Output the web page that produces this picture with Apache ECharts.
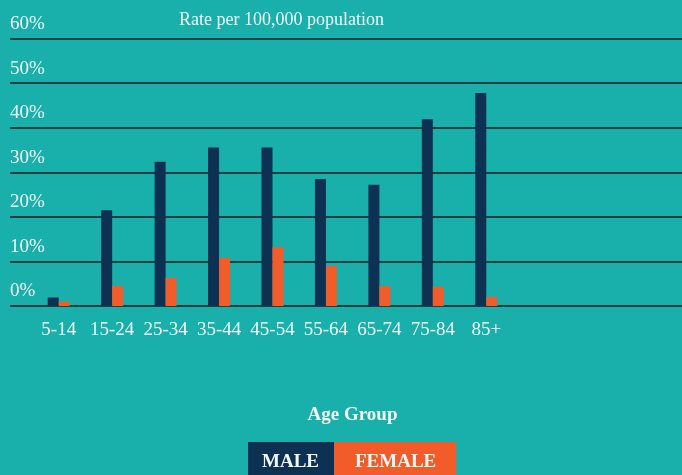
<!DOCTYPE html>
<html>
<head>
<meta charset="utf-8">
<script src="https://cdn.jsdelivr.net/npm/echarts@6/dist/echarts.min.js"></script>
<style>html,body{margin:0;padding:0;background:#19b0ab;}#c{width:682px;height:475px;}</style>
</head>
<body>
<div id="c"></div>
<script>
const categories = ['5-14','15-24','25-34','35-44','45-54','55-64','65-74','75-84','85+'];
const male = [1.9, 21.5, 32.4, 35.6, 35.6, 28.5, 27.2, 41.9, 47.8];
const female = [1.0, 4.5, 6.3, 10.8, 13.2, 9.0, 4.5, 4.3, 2.0];
const yTicks = [0, 10, 20, 30, 40, 50, 60];

const FONT = 'Liberation Serif';
const TXT = '#f2f7f6';
const chart = echarts.init(document.getElementById('c'), null, {renderer: 'canvas'});
chart.setOption({
  backgroundColor: '#19b0ab',
  animation: false,
  title: {
    text: 'Rate per 100,000 population',
    left: 174, top: 6,
    textStyle: {fontFamily: FONT, fontSize: 18, fontWeight: 'normal', color: TXT}
  },
  legend: {
    bottom: -13, left: 238,
    itemWidth: 0, itemHeight: 0, itemGap: -5,
    icon: 'rect',
    selectedMode: false,
    data: [
      {name: 'MALE', textStyle: {backgroundColor: '#0c3152', padding: [11, 15, 11, 14]}},
      {name: 'FEMALE', textStyle: {backgroundColor: '#f25c2a', padding: [11, 20, 11, 21]}}
    ],
    textStyle: {fontFamily: FONT, fontSize: 19, fontWeight: 'bold', color: TXT}
  },
  grid: [
    {left: 10, right: 0, top: 38.7, bottom: 169},
    {left: 32, right: 169, top: 38.7, bottom: 169}
  ],
  xAxis: [
    {gridIndex: 0, type: 'value', show: false, min: 0, max: 1},
    {gridIndex: 1, type: 'category', data: categories,
     name: 'Age Group', nameLocation: 'middle', nameGap: 100,
     nameTextStyle: {fontFamily: FONT, fontSize: 19, fontWeight: 'bold', color: TXT, padding: [0, 0, 0, 160]},
     axisLine: {show: false}, axisTick: {show: false},
     axisLabel: {interval: 0, hideOverlap: false, fontFamily: FONT, fontSize: 19, color: TXT, margin: 15}}
  ],
  yAxis: [
    {gridIndex: 0, type: 'value', min: 0, max: 60, interval: 10,
     axisLine: {show: false}, axisTick: {show: false},
     splitLine: {show: true, lineStyle: {color: '#22403f', width: 2}},
     axisLabel: {inside: true, margin: 0, align: 'left', verticalAlign: 'bottom',
       padding: [0, 0, 5, 0],
       fontFamily: FONT, fontSize: 19, color: TXT,
       formatter: v => yTicks.includes(v) ? v + '%' : ''}},
    {gridIndex: 1, type: 'value', min: 0, max: 60, interval: 10, show: false, splitLine: {show: false}}
  ],
  series: [
    {name: 'MALE', type: 'bar', xAxisIndex: 1, yAxisIndex: 1, data: male,
     barWidth: 11, barGap: '0%', itemStyle: {color: '#0c3152'}},
    {name: 'FEMALE', type: 'bar', xAxisIndex: 1, yAxisIndex: 1, data: female,
     barWidth: 11, barGap: '0%', itemStyle: {color: '#f25c2a'}}
  ]
});
</script>
</body>
</html>
